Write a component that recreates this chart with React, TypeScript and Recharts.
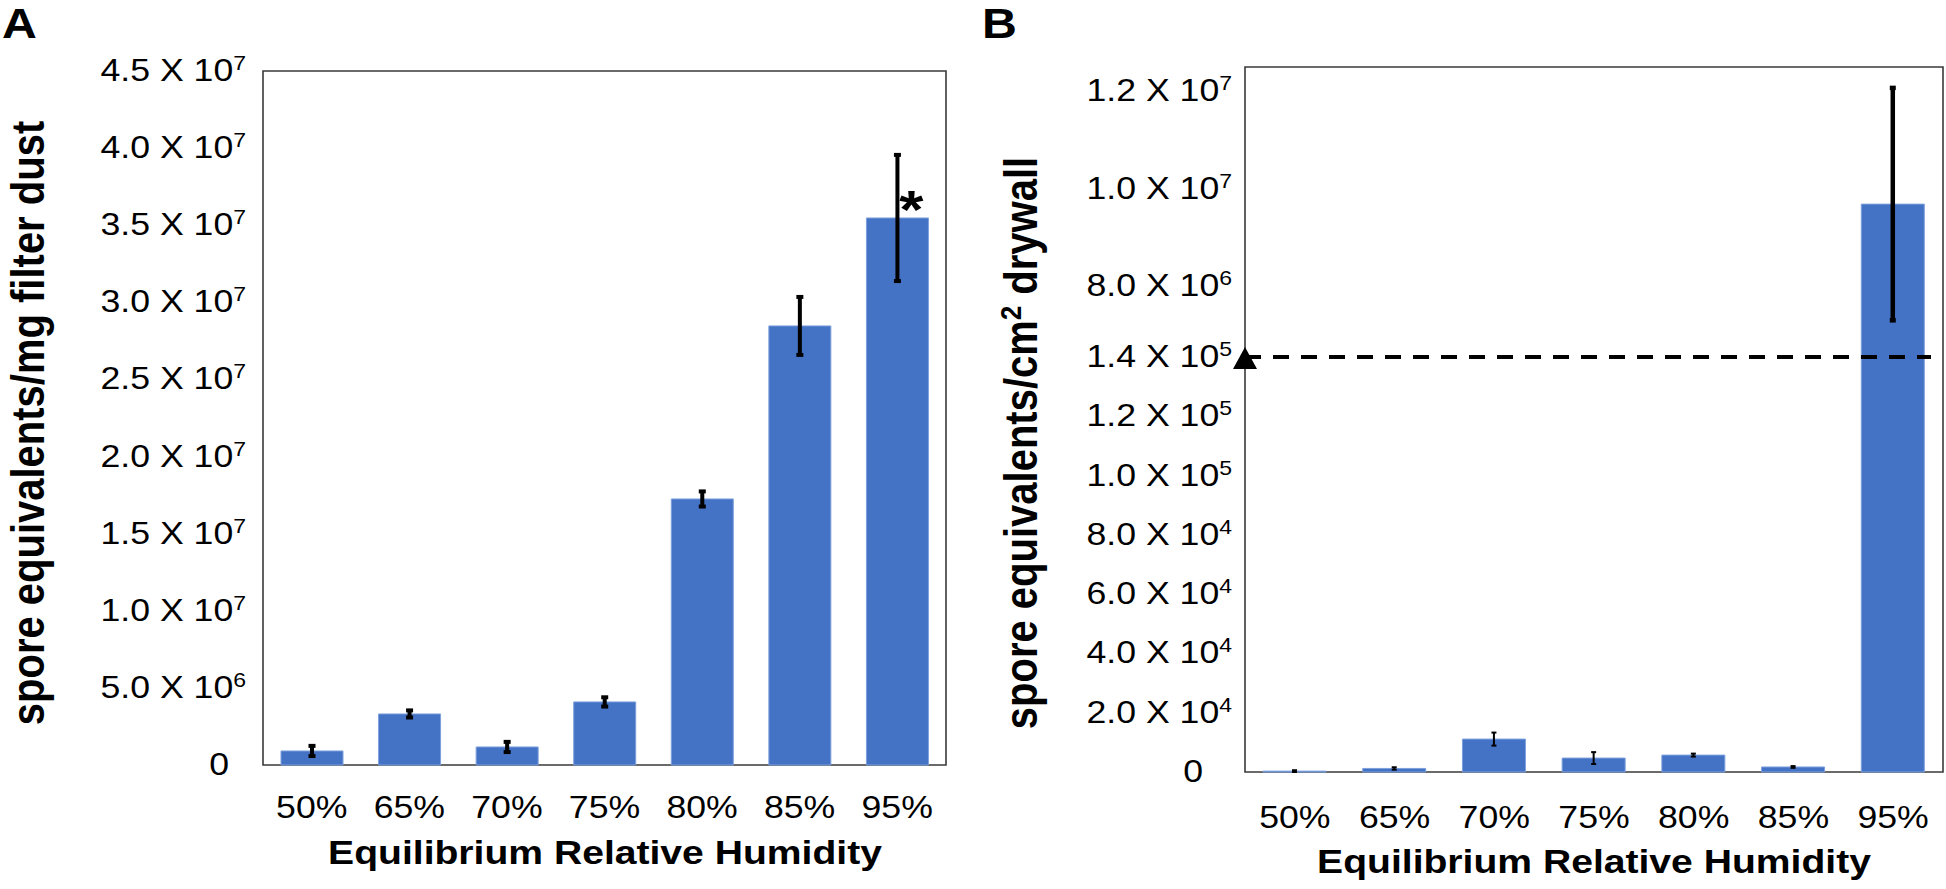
import React from "react";
import {
    BarChart,
    Bar,
    XAxis,
    YAxis,
    ErrorBar,
    LabelList,
    ReferenceArea,
    ReferenceLine
} from "recharts";

// categories shared by both panels
const humidity = ["50%", "65%", "70%", "75%", "80%", "85%", "95%"];

// panel A: spore equivalents / mg filter dust
const dustMean = [0.91e6, 3.31e6, 1.17e6, 4.09e6, 17.25e6, 28.47e6, 35.47e6];
const dustErr = [0.33e6, 0.23e6, 0.33e6, 0.3e6, 0.49e6, 1.88e6, 4.09e6];
const dustSig = ["", "", "", "", "", "", "*"];
const dustTicks = [0, 5e6, 1e7, 1.5e7, 2e7, 2.5e7, 3e7, 3.5e7, 4e7, 4.5e7];

// panel B: spore equivalents / cm2 drywall (broken axis)
const drywallMean = [0.3e3, 1.2e3, 11.1e3, 4.7e3, 5.7e3, 1.7e3, 9.68e6];
const drywallErr = [0.3e3, 0.4e3, 2.2e3, 2.0e3, 0.5e3, 0.3e3, 2.39e6];
const drywallTicks = [0, 2e4, 4e4, 6e4, 8e4, 1e5, 1.2e5, 1.4e5, 8e6, 1e7, 1.2e7];
const detectionLimit = 1.4e5;

// axis break: linear up to 1.4e5, then a compressed upper segment
const UPPER_REF = 8e6;
const UPPER_POS = 1.64e5;
const UPPER_SLOPE = 0.0164;
const toAxis = (v: number) =>
    v <= detectionLimit ? v : Math.max(detectionLimit, UPPER_POS + (v - UPPER_REF) * UPPER_SLOPE);

const dustData = humidity.map((h, i) => ({
    h,
    value: dustMean[i],
    err: dustErr[i],
    sig: dustSig[i],
}));

const drywallData = humidity.map((h, i) => {
    const v = drywallMean[i];
    const e = drywallErr[i];
    const d = toAxis(v);
    const bounds = [d - toAxis(Math.max(0, v - e)), toAxis(v + e) - d];
    const big = v > detectionLimit;
    return { h, value: d, errBig: big ? bounds : null, errSmall: big ? null : bounds };
});

const FONT = "'Liberation Sans', Arial, Helvetica, sans-serif";
const SX = 1.15; // the figure is a little wider than its fonts
const BLUE = "#4472C4";

function SText({ x, y, size, bold, anchor = "middle", vertical, children }: any) {
    const t = `translate(${x},${y}) scale(${SX},1)` + (vertical ? " rotate(-90)" : "");
    return (
        <text
            transform={t}
            fontFamily={FONT}
            fontSize={size}
            fontWeight={bold ? 700 : 400}
            textAnchor={anchor}
            fill="#000"
        >
            {children}
        </text>
    );
}

function sci(v: number) {
    const exp = Math.floor(Math.log10(v) + 1e-9);
    return { m: (v / Math.pow(10, exp)).toFixed(1), exp };
}

function makeYTick(right: number, zeroRight: number, lookup?: (d: number) => number) {
    return (props: any) => {
        const raw = lookup ? lookup(props.payload.value) : props.payload.value;
        const y = props.y + 10;
        if (raw === 0) {
            return <SText x={zeroRight} y={y} size={31} anchor="end">0</SText>;
        }
        const { m, exp } = sci(raw);
        return (
            <SText x={right} y={y} size={31} anchor="end">
                <tspan>{`${m} X 10`}</tspan>
                <tspan dy={-11} fontSize={20}>{exp}</tspan>
            </SText>
        );
    };
}

function makeXTick(baseline: number) {
    return (props: any) => (
        <SText x={props.x} y={baseline} size={31}>{props.payload.value}</SText>
    );
}

const drywallLookup = (d: number) => {
    const t = drywallTicks.find((v) => Math.abs(toAxis(v) - d) < 1);
    return t === undefined ? 0 : t;
};

function PanelA() {
    const yMax = dustTicks[dustTicks.length - 1];
    return (
        <BarChart
            width={960}
            height={889}
            data={dustData}
            margin={{ top: 71, right: 14, left: 0, bottom: 0 }}
            barSize={62}
        >
            <XAxis
                dataKey="h"
                height={124}
                axisLine={false}
                tickLine={false}
                interval={0}
                tick={makeXTick(818)}
                label={{
                    content: () => (
                        <SText x={605} y={864} size={34} bold>Equilibrium Relative Humidity</SText>
                    ),
                }}
            />
            <YAxis
                width={263}
                domain={[0, yMax]}
                ticks={dustTicks}
                interval={0}
                axisLine={false}
                tickLine={false}
                tick={makeYTick(246, 229)}
                label={{
                    content: () => (
                        <g>
                            <SText x={2} y={38} size={42} bold anchor="start">A</SText>
                            <SText x={44} y={423} size={40} bold vertical>
                                spore equivalents/mg filter dust
                            </SText>
                        </g>
                    ),
                }}
            />
            <ReferenceArea y1={0} y2={yMax} fill="none" stroke="#3a3a3a" strokeWidth={1.6} />
            <Bar dataKey="value" fill={BLUE} stroke="#7da0dd" strokeWidth={1} isAnimationActive={false}>
                <ErrorBar dataKey="err" width={3.5} strokeWidth={4} stroke="#000" isAnimationActive={false} />
                <LabelList
                    dataKey="sig"
                    content={(p: any) =>
                        p.value ? (
                            <SText x={p.x + p.width / 2 + 14} y={p.y + 10} size={54} bold>{p.value}</SText>
                        ) : null
                    }
                />
            </Bar>
        </BarChart>
    );
}

function PanelB() {
    const yMax = toAxis(1.25e7);
    return (
        <BarChart
            width={986}
            height={889}
            data={drywallData}
            margin={{ top: 67, right: 3, left: 0, bottom: 0 }}
            barSize={63}
        >
            <XAxis
                dataKey="h"
                height={117}
                axisLine={false}
                tickLine={false}
                interval={0}
                tick={makeXTick(828)}
                label={{
                    content: () => (
                        <SText x={634} y={873} size={34} bold>Equilibrium Relative Humidity</SText>
                    ),
                }}
            />
            <YAxis
                width={285}
                domain={[0, yMax]}
                ticks={drywallTicks.map(toAxis)}
                interval={0}
                axisLine={false}
                tickLine={false}
                tick={makeYTick(272, 243, drywallLookup)}
                label={{
                    content: () => (
                        <g>
                            <SText x={22} y={38} size={42} bold anchor="start">B</SText>
                            <SText x={77} y={443} size={40} bold vertical>
                                <tspan>spore equivalents/cm</tspan>
                                <tspan dy={-14} fontSize={26}>2</tspan>
                                <tspan dy={14}> drywall</tspan>
                            </SText>
                        </g>
                    ),
                }}
            />
            <ReferenceArea y1={0} y2={yMax} fill="none" stroke="#3a3a3a" strokeWidth={1.6} />
            <Bar dataKey="value" fill={BLUE} stroke="#7da0dd" strokeWidth={1} isAnimationActive={false}>
                <ErrorBar dataKey="errSmall" width={2.5} strokeWidth={2} stroke="#000" isAnimationActive={false} />
                <ErrorBar dataKey="errBig" width={3} strokeWidth={4.5} stroke="#000" isAnimationActive={false} />
            </Bar>
            <ReferenceLine
                y={toAxis(detectionLimit)}
                shape={(p: any) => (
                    <g>
                        <line
                            x1={p.x1}
                            y1={p.y1}
                            x2={p.x2 - 12}
                            y2={p.y2}
                            stroke="#000"
                            strokeWidth={4}
                            strokeDasharray="16 12"
                        />
                        <polygon
                            points={`${p.x1},${p.y1 - 10} ${p.x1 - 12},${p.y1 + 12} ${p.x1 + 12},${p.y1 + 12}`}
                            fill="#000"
                        />
                    </g>
                )}
            />
        </BarChart>
    );
}

export default function App() {
    return (
        <div style={{ position: "absolute", left: 0, top: 0, width: 1946, height: 889, background: "#fff" }}>
            <div style={{ position: "absolute", left: 0, top: 0 }}>
                <PanelA />
            </div>
            <div style={{ position: "absolute", left: 960, top: 0 }}>
                <PanelB />
            </div>
        </div>
    );
}
